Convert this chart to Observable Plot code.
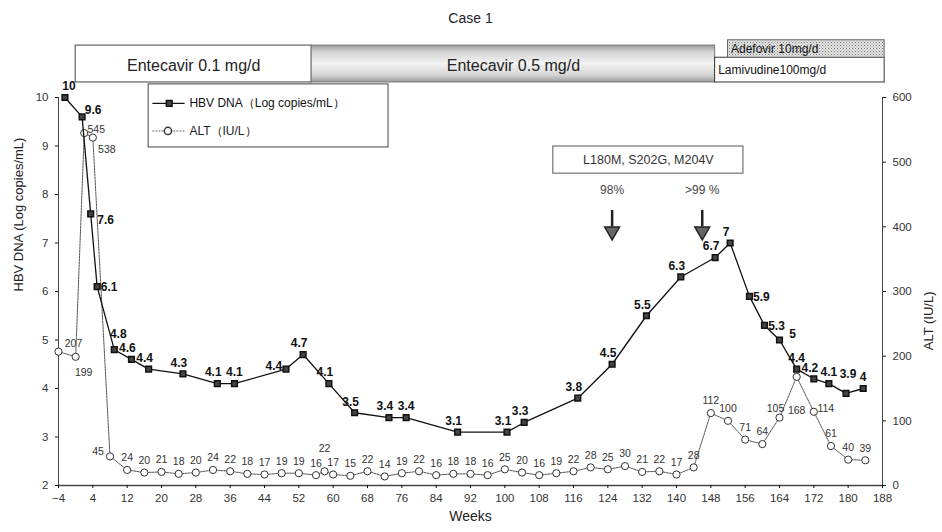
<!DOCTYPE html>
<html><head><meta charset="utf-8">
<script src="https://cdn.jsdelivr.net/npm/d3@7"></script>
<script src="https://cdn.jsdelivr.net/npm/@observablehq/plot@0.6"></script>
<style>
body{margin:0;background:#fff;}
#chart svg{display:block;}
</style>
</head><body><div id="chart"></div>
<script>
// ---- data ----
const dnaWeeks  = [-2.5, 1.5, 3.5, 5, 9, 13, 17, 25, 33, 37, 49, 53, 59, 65, 73, 77, 89, 100.5, 104.5, 117, 125, 133, 141, 149, 152.5, 157, 160.5, 164, 168, 172, 175.5, 179.5, 183.5];
const dnaValues = [10, 9.6, 7.6, 6.1, 4.8, 4.6, 4.4, 4.3, 4.1, 4.1, 4.4, 4.7, 4.1, 3.5, 3.4, 3.4, 3.1, 3.1, 3.3, 3.8, 4.5, 5.5, 6.3, 6.7, 7, 5.9, 5.3, 5, 4.4, 4.2, 4.1, 3.9, 4];
const altWeeks  = [-4, 0, 2, 4, 8, 12, 16, 20, 24, 28, 32, 36, 40, 44, 48, 52, 56, 58, 60, 64, 68, 72, 76, 80, 84, 88, 92, 96, 100, 104, 108, 112, 116, 120, 124, 128, 132, 136, 140, 144, 148, 152, 156, 160, 164, 168, 172, 176, 180, 184];
const altValues = [207, 199, 545, 538, 45, 24, 20, 21, 18, 20, 24, 22, 18, 17, 19, 19, 16, 22, 17, 15, 22, 14, 19, 22, 16, 18, 18, 16, 25, 20, 16, 19, 22, 28, 25, 30, 21, 22, 17, 28, 112, 100, 71, 64, 105, 168, 114, 61, 40, 39];
const xTicks = d3.range(-4, 189, 8);
const leftTicks = [2, 3, 4, 5, 6, 7, 8, 9, 10];
const rightTicks = [0, 100, 200, 300, 400, 500, 600];
const treatNames = ["Entecavir 0.1 mg/d", "Entecavir 0.5 mg/d", "Lamivudine100mg/d", "Adefovir 10mg/d"];
const treatStart = [0, 55, 149, 152];
const treatEnd   = [55, 149, 188.5, 188.5];
const mutationText = "L180M, S202G, M204V";
const mutationWeeks = [125, 146];
const mutationPct = ["98%", ">99 %"];
const titleText = "Case 1";

// ---- styling / placement (not data) ----
const font = "'Liberation Sans', Arial, sans-serif";
const altToY = a => 2 + a * 8 / 600;
const dnaPos = ["ar","r1","r2","r","hr","a","a","a","a","a0","l","a","a","a","a","a0","a","a","a","a","a","a","a","a","a","r","r","r3","a0","a","a0","hi","a0"];
const altPos = altValues.map(() => "a");
altPos[0] = "ar"; altPos[1] = "br"; altPos[2] = "r"; altPos[3] = "br2"; altPos[4] = "l";
altPos[17] = "hi"; altPos[44] = "al"; altPos[45] = "b"; altPos[46] = "r";
const dnaOff = {a:[-4,-11], a0:[0,-11], ar:[4,-11], hr:[4,-16], r:[12,1], r1:[11,-7], r2:[15,6], r3:[13,-6], l:[-12,-3], hi:[2,-19]};
const altOff = {a:[0,-12], ar:[15,-8], br:[8,16], r:[12,-3], br2:[14,12], l:[-12,-5], hi:[0,-23], al:[-4,-9], b:[0,34]};

const dnaRows = dnaWeeks.map((w, i) => ({week: w, value: dnaValues[i], label: String(dnaValues[i]), pos: dnaPos[i]}));
const altRows = altWeeks.map((w, i) => ({week: w, value: altValues[i], label: String(altValues[i]), pos: altPos[i]}));
const boxes = treatNames.map((n, i) => ({name: n, start: treatStart[i], end: treatEnd[i]}));

function labelMarks(rows, y, off, style) {
  const codes = [...new Set(rows.map(d => d.pos))];
  return codes.map(c => Plot.text(rows.filter(d => d.pos === c), {x: "week", y, text: "label", dx: off[c][0], dy: off[c][1], ...style}));
}

const svg = Plot.plot({
  width: 942, height: 532,
  marginTop: 97, marginBottom: 47, marginLeft: 58, marginRight: 60,
  x: {domain: [-4, 188]},
  y: {domain: [2, 10]},
  style: {fontFamily: font, fontSize: "11px", color: "#111", background: "#fff", overflow: "visible"},
  marks: [
    // treatment boxes
    Plot.rect([boxes[0]], {x1: "start", x2: "end", y1: 10.31, y2: 11.07, fill: "#fff", stroke: "#444", strokeWidth: 1}),
    Plot.rect([boxes[1]], {x1: "start", x2: "end", y1: 10.31, y2: 11.07, fill: "url(#grayband)", stroke: "#777", strokeWidth: 1}),
    Plot.rect([boxes[2]], {x1: "start", x2: "end", y1: 10.31, y2: 10.82, fill: "#fff", stroke: "#333", strokeWidth: 1}),
    Plot.rect([boxes[3]], {x1: "start", x2: "end", y1: 10.82, y2: 11.18, fill: "url(#dots)", stroke: "#666", strokeWidth: 1}),
    Plot.text([boxes[0], boxes[1]], {x: d => (d.start + d.end) / 2, y: 10.66, text: "name", fontSize: 16, fill: "#222"}),
    Plot.text([boxes[2]], {x: "start", y: 10.56, text: "name", textAnchor: "start", dx: 3, fontSize: 12, fill: "#111"}),
    Plot.text([boxes[3]], {x: "start", y: 10.99, text: "name", textAnchor: "start", dx: 3, fontSize: 12, fill: "#111"}),
    // frame
    Plot.ruleX([-4, 188], {y1: 2, y2: 10, stroke: "#444"}),
    Plot.ruleY([2], {x1: -4, x2: 188, stroke: "#444", strokeWidth: 1.5}),
    Plot.axisX(xTicks, {tickSize: 3, tickPadding: 5, fontSize: 11.5, fill: "#333", label: null}),
    Plot.axisY(leftTicks, {anchor: "left", tickSize: 3, tickPadding: 7, fontSize: 11.5, fill: "#333", label: null}),
    Plot.axisY(rightTicks.map(altToY), {anchor: "right", tickSize: 3, tickPadding: 7, fontSize: 11.5, fill: "#333", label: null, tickFormat: d => String(Math.round((d - 2) * 75))}),
    // legend
    Plot.rect([0], {x1: 17, x2: 72.9, y1: 8.97, y2: 10.27, fill: "#fff", stroke: "#444"}),
    Plot.ruleY([9.88], {x1: 18, x2: 25.5, stroke: "#111", strokeWidth: 1.3}),
    Plot.dot([0], {x: 21.8, y: 9.88, symbol: "square", r: 3.2, fill: "#444", stroke: "#111"}),
    Plot.text(["HBV DNA（Log copies/mL）"], {x: 26.5, y: 9.88, textAnchor: "start", fontSize: 12, fill: "#111"}),
    Plot.ruleY([9.31], {x1: 18, x2: 25.5, stroke: "#666", strokeDasharray: "2 1"}),
    Plot.dot([0], {x: 21.5, y: 9.31, r: 3.6, fill: "#fff", stroke: "#333"}),
    Plot.text(["ALT（IU/L）"], {x: 26.5, y: 9.31, textAnchor: "start", fontSize: 12, fill: "#222"}),
    // mutation annotation
    Plot.rect([0], {x1: 111.3, x2: 155.6, y1: 8.43, y2: 8.99, fill: "#fff", stroke: "#555"}),
    Plot.text([mutationText], {x: 133.45, y: 8.71, fontSize: 12.5, fill: "#333"}),
    Plot.text(mutationWeeks, {x: d => d, y: 8.08, text: (d, i) => mutationPct[i], fontSize: 12, fill: "#444"}),
    Plot.ruleX(mutationWeeks, {y1: 7.67, y2: 7.33, stroke: "#222", strokeWidth: 2.5}),
    Plot.dot(mutationWeeks, {x: d => d, y: 7.24, symbol: "triangle", rotate: 180, r: 5.5, fill: "#666", stroke: "#222"}),
    // ALT series
    Plot.line(altRows, {x: "week", y: d => altToY(d.value), stroke: "#555", strokeWidth: 1, strokeDasharray: "2 1"}),
    Plot.dot(altRows, {x: "week", y: d => altToY(d.value), r: 3.6, fill: "#fff", stroke: "#333", strokeWidth: 1}),
    ...labelMarks(altRows, d => altToY(d.value), altOff, {fontSize: 10.5, fill: "#333"}),
    // HBV DNA series
    Plot.line(dnaRows, {x: "week", y: "value", stroke: "#111", strokeWidth: 1.3}),
    Plot.dot(dnaRows, {x: "week", y: "value", symbol: "square", r: 3.2, fill: "#444", stroke: "#111"}),
    ...labelMarks(dnaRows, "value", dnaOff, {fontSize: 12, fill: "#111", fontWeight: "bold"}),
    // titles
    Plot.text([titleText], {frameAnchor: "top", dy: -84, fontSize: 14, fill: "#222"}),
    Plot.text(["Weeks"], {frameAnchor: "bottom", dy: 35, fontSize: 14, fill: "#222"}),
    Plot.text(["HBV DNA (Log copies/mL)"], {frameAnchor: "left", dx: -40, rotate: -90, fontSize: 13, fill: "#222"}),
    Plot.text(["ALT (IU/L)"], {frameAnchor: "right", dx: 46, rotate: -90, fontSize: 13, fill: "#222"})
  ]
});

const defs = d3.select(svg).insert("defs", ":first-child");
const g = defs.append("linearGradient").attr("id", "grayband").attr("x1", 0).attr("y1", 0).attr("x2", 0).attr("y2", 1);
[[0, "#9a9a9a"], [0.18, "#d4d4d4"], [0.5, "#f2f2f2"], [0.82, "#d4d4d4"], [1, "#9a9a9a"]].forEach(([o, c]) => g.append("stop").attr("offset", o).attr("stop-color", c));
const p = defs.append("pattern").attr("id", "dots").attr("width", 3).attr("height", 3).attr("patternUnits", "userSpaceOnUse");
p.append("rect").attr("width", 3).attr("height", 3).attr("fill", "#e4e4e4");
p.append("rect").attr("width", 1).attr("height", 1).attr("fill", "#777");
p.append("rect").attr("x", 1.5).attr("y", 1.5).attr("width", 1).attr("height", 1).attr("fill", "#999");

document.getElementById("chart").appendChild(svg);
</script>
</body></html>
